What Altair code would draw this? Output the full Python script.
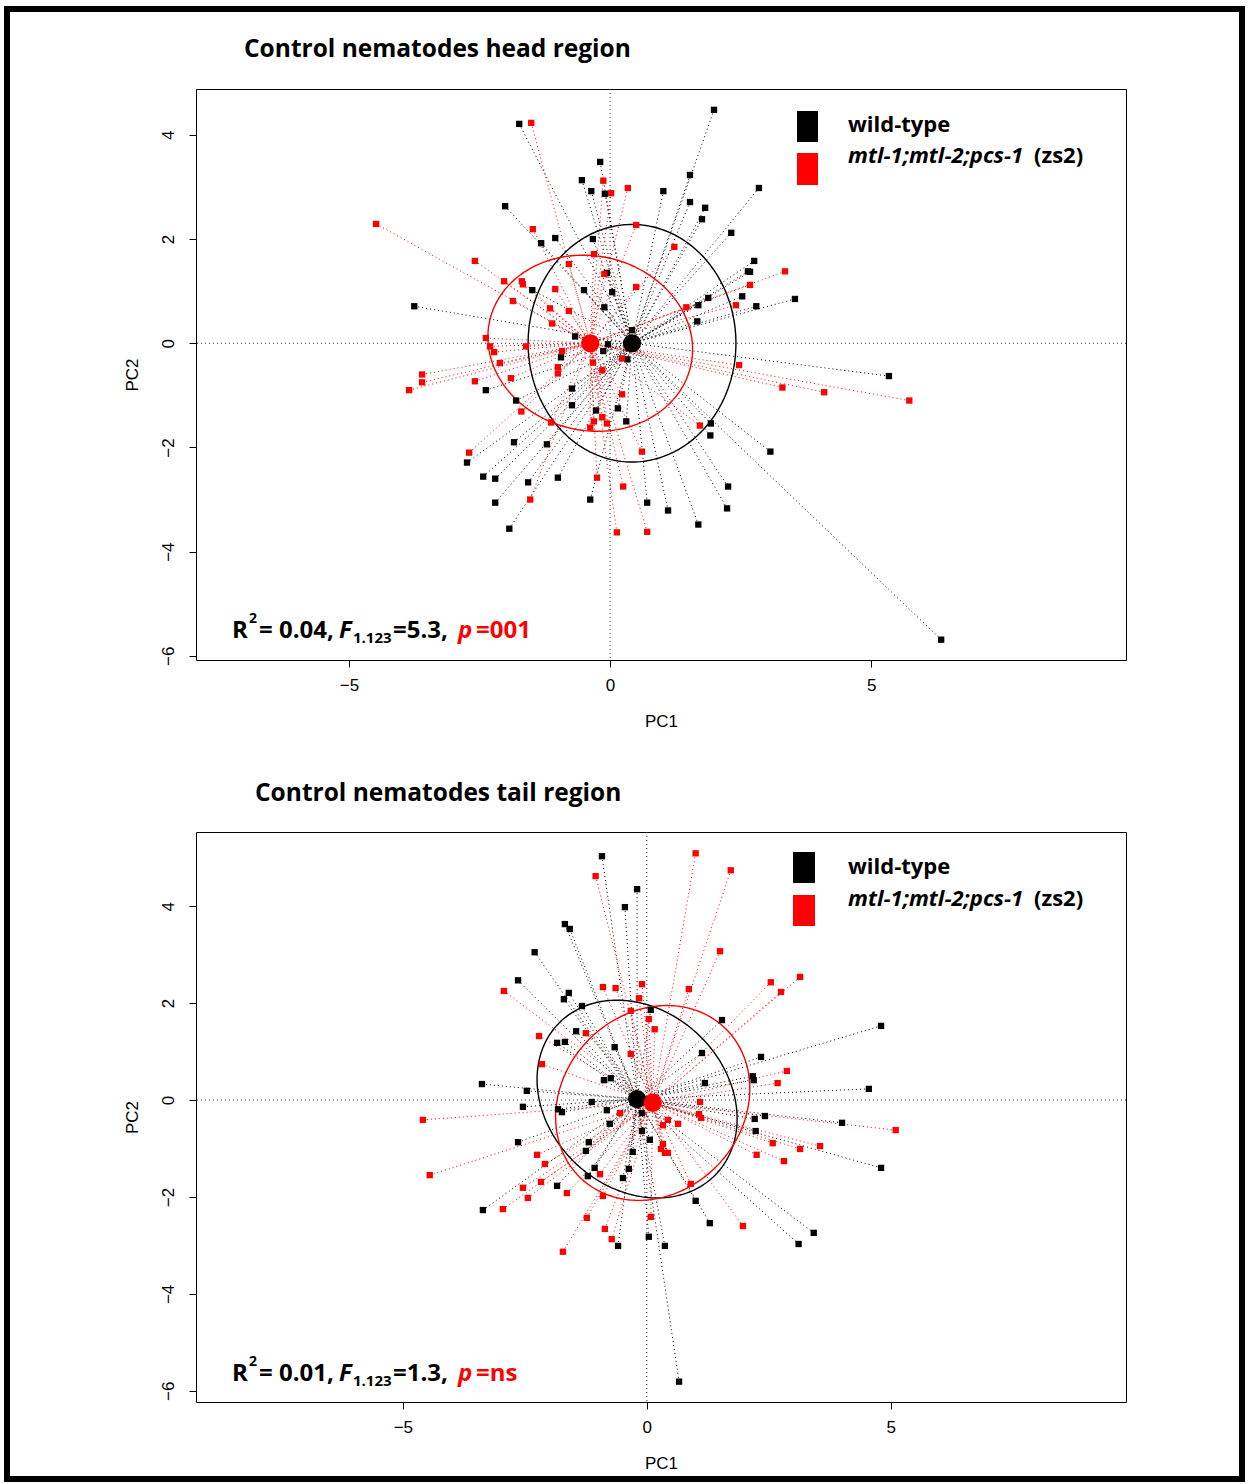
import altair as alt
import numpy as np
import pandas as pd

FONT = "Open Sans"
AXFONT = "Liberation Sans"
RED = "#FF0000"

# ---------------- head region ----------------
head_wt_pc1 = [1.99, -1.74, -0.19, -0.54, -0.36, -0.10, 1.53, 1.02, 1.53, 1.82, 1.76, 2.85, 2.32, -2.01,
               -1.05, -1.32, -0.33, 2.76, 2.64, 2.68, 2.53, 2.80, 3.54, 1.88, 1.69, 1.67, -1.49, -0.50,
               0.04, -0.11, -0.06, -3.75, -0.67, -0.04, 0.42, -0.13, -0.94, 0.33, -2.38, -1.80, -0.73,
               -0.73, -0.27, 0.15, 0.31, -1.84, -1.21, -2.74, -2.43, -2.20, -1.57, -1.00, -2.20, -0.38,
               -1.93, 0.71, 1.93, 1.92, 3.07, 5.34, 2.26, 2.24, 1.11, 1.69, 6.34]
head_wt_pc2 = [4.48, 4.21, 3.48, 3.13, 2.92, 2.87, 3.23, 2.92, 2.71, 2.60, 2.38, 2.98, 2.12, 2.63, 2.02,
               1.92, 2.00, 1.58, 1.38, 1.37, 0.90, 0.71, 0.85, 0.87, 0.73, 0.42, 1.02, 1.02, 0.98, 0.69,
               1.35, 0.71, 0.13, -0.02, 0.25, -0.15, -0.27, -0.31, -0.90, -1.10, -0.87, -1.19, -1.29,
               -1.25, -1.50, -1.90, -1.94, -2.29, -2.56, -2.60, -2.67, -2.58, -3.06, -3.00, -3.56, -3.06,
               -1.54, -1.77, -2.08, -0.63, -2.75, -3.17, -3.21, -3.48, -5.69]
head_mut_pc1 = [-1.51, -0.13, 0.02, 0.34, 0.50, -1.48, -4.48, -2.59, -0.31, -0.79, -0.11, -2.03, -1.69,
                -1.67, -1.05, 0.50, -1.86, -1.15, -0.79, -1.11, -2.38, 1.23, 1.46, 2.68, 3.35, 2.41,
                -2.30, -2.22, -1.61, -2.11, -3.60, -3.60, -3.85, -2.59, -1.90, -1.00, -1.00, -0.92,
                -0.33, -0.15, 0.23, 0.23, -1.70, -1.13, -0.31, -0.15, -0.06, -0.38, 0.61, -2.70, -0.25,
                0.25, -1.53, 0.13, 0.71, 1.72, 2.47, 3.30, 4.10, 5.73]
head_mut_pc2 = [4.23, 3.12, 2.88, 2.98, 2.27, 2.19, 2.29, 1.58, 1.71, 1.52, 1.33, 1.19, 1.19, 1.13, 1.04,
                1.08, 0.81, 0.67, 0.62, 0.38, 0.10, 1.85, 0.69, 1.12, 1.38, 0.73, -0.06, -0.17, -0.06,
                -0.38, -0.60, -0.75, -0.90, -0.73, -0.67, -0.46, -0.58, -0.15, -0.37, -0.52, -0.29,
                -0.98, -1.31, -1.52, -1.50, -1.42, -1.54, -1.62, -2.08, -2.10, -2.58, -2.75, -3.00,
                -3.63, -3.62, -1.58, -0.42, -0.85, -0.94, -1.10]
head_centroids = {"wt": (0.42, 0.0), "mut": (-0.38, 0.0)}
# ellipse: centre x, centre y, sd x, sd y, correlation
head_ellipses = {"wt": (0.42, 0.0, 1.99, 2.28, 0.0), "mut": (-0.38, 0.0, 1.96, 1.69, -0.07)}

# ---------------- tail region ----------------
tail_wt_pc1 = [-0.92, -0.20, -0.45, -1.68, -1.58, -2.30, -2.64, -1.60, -1.70, -1.33, 0.08, -1.45, -1.84,
               -1.68, -0.66, -0.88, -0.74, -3.38, -2.46, -1.13, -2.54, 1.54, 1.13, 2.34, 4.80, 2.17, 2.19,
               1.19, 4.55, -0.82, -1.74, -1.82, -0.10, -0.76, -0.10, 0.06, -2.64, -1.19, -1.25, -0.29,
               -1.07, -1.21, -0.37, -0.49, -1.84, -3.36, -0.59, 0.04, 2.21, 2.42, 2.23, 4.00, 4.80, 1.00,
               1.29, 3.42, 3.11, 0.37, 0.66]
tail_wt_pc2 = [5.03, 4.35, 3.98, 3.63, 3.53, 3.05, 2.47, 2.21, 2.08, 1.94, 1.86, 1.42, 1.18, 1.20, 1.09,
               0.41, 0.45, 0.33, 0.19, -0.04, -0.14, 1.65, 0.97, 0.89, 1.53, 0.49, 0.41, 0.35, 0.23,
               -0.21, -0.25, -0.19, -0.27, -0.49, -0.64, -0.82, -0.87, -0.87, -1.05, -1.07, -1.40, -1.57,
               -1.42, -1.61, -1.77, -2.27, -3.01, -2.82, -0.39, -0.33, -0.64, -0.47, -1.40, -2.08, -2.54,
               -2.74, -2.97, -3.01, -5.81]
tail_mut_pc1 = [-1.05, -2.93, -0.90, -0.64, -0.10, -0.16, -0.33, 0.04, 0.16, -1.25, -2.21, -0.33, -2.15,
                1.00, 1.72, 1.50, 0.86, 2.54, 3.14, 2.75, 2.87, 2.68, 1.09, -4.59, -0.55, -4.45, -2.25,
                -2.09, -2.17, -2.54, -2.44, -1.64, -0.96, -0.90, -2.95, -1.23, -0.86, -0.72, -1.72, 0.08,
                0.29, 1.07, 1.11, 0.43, 0.33, 0.64, 0.33, 0.37, 0.43, 0.90, 1.97, 2.25, 2.58, 2.81, 3.14,
                3.55, 5.10]
tail_mut_pc2 = [4.62, 2.25, 2.33, 2.31, 2.39, 2.10, 1.84, 1.67, 1.46, 1.38, 1.32, 0.95, 0.74, 5.09, 4.74,
                3.07, 2.29, 2.43, 2.54, 2.23, 0.60, 0.35, -0.04, -0.41, -0.27, -1.55, -1.13, -1.32, -1.69,
                -1.81, -2.02, -1.92, -1.53, -1.98, -2.25, -2.43, -2.66, -2.87, -3.13, -2.41, -1.01, -0.29,
                -0.37, -0.41, -0.52, -0.49, -0.91, -1.09, -1.09, -1.73, -2.60, -1.13, -0.89, -1.26, -1.01,
                -0.95, -0.62]
tail_centroids = {"wt": (-0.20, 0.02), "mut": (0.12, -0.06)}
tail_ellipses = {"wt": (-0.20, 0.02, 2.05, 2.04, -0.20), "mut": (0.12, -0.06, 1.99, 2.01, 0.145)}

x_ticks = [-5, 0, 5]
y_ticks = [-6, -4, -2, 0, 2, 4]
legend_labels = ["wild-type", "mtl-1;mtl-2;pcs-1", "(zs2)"]

one = pd.DataFrame({"a": [0]})
COLOR = alt.Color("group:N", scale=alt.Scale(domain=["wt", "mut"], range=["black", RED]), legend=None)


def ellipse_df(params):
    frames = []
    t = np.linspace(0, 2 * np.pi, 241)
    for g, (cx, cy, sx, sy, r) in params.items():
        xs = cx + sx * np.cos(t)
        ys = cy + sy * (r * np.cos(t) + np.sqrt(1 - r * r) * np.sin(t))
        frames.append(pd.DataFrame({"pc1": xs, "pc2": ys, "idx": np.arange(len(t)), "group": g}))
    return pd.concat(frames, ignore_index=True)


def text(s, x, y, size, weight="bold", style="normal", color="black", font=FONT, align="left"):
    return alt.Chart(one).mark_text(
        text=s, align=align, baseline="alphabetic", fontSize=size, fontWeight=weight,
        fontStyle=style, color=color, font=font
    ).encode(x=alt.value(x), y=alt.value(y))


def rect(x1, x2, y1, y2, color):
    return alt.Chart(one).mark_rect(color=color).encode(
        x=alt.value(x1), x2=alt.value(x2), y=alt.value(y1), y2=alt.value(y2))


def panel(wx, wy, mx, my, cents, ells, xdom, ydom, W, H, title, tx, ty, lg, ann, frame=False):
    pts = pd.DataFrame({"pc1": wx + mx, "pc2": wy + my,
                        "group": ["wt"] * len(wx) + ["mut"] * len(mx)})
    pts["cx"] = pts["group"].map(lambda g: cents[g][0])
    pts["cy"] = pts["group"].map(lambda g: cents[g][1])
    cdf = pd.DataFrame({"pc1": [cents[g][0] for g in cents], "pc2": [cents[g][1] for g in cents],
                        "group": list(cents)})

    xaxis = alt.Axis(values=x_ticks, title="PC1", tickSize=7, tickColor="black", domain=False, grid=False,
                     labelFont=AXFONT, labelFontSize=17, labelColor="black", labelPadding=10,
                     labelFlush=False, labelOverlap=False,
                     titleFont=AXFONT, titleFontSize=17, titleFontWeight="normal", titleColor="black",
                     titlePadding=20)
    yaxis = alt.Axis(values=y_ticks, title="PC2", tickSize=7, tickColor="black", domain=False, grid=False,
                     labelFont=AXFONT, labelFontSize=17, labelColor="black", labelAngle=-90,
                     labelAlign="center", labelBaseline="bottom", labelPadding=12,
                     labelFlush=False, labelOverlap=False,
                     titleFont=AXFONT, titleFontSize=17, titleFontWeight="normal", titleColor="black",
                     titlePadding=18)
    xs = alt.Scale(domain=xdom, nice=False, zero=False)
    ys = alt.Scale(domain=ydom, nice=False, zero=False)

    def X(f):
        return alt.X(f, type="quantitative", scale=xs, axis=xaxis)

    def Y(f):
        return alt.Y(f, type="quantitative", scale=ys, axis=yaxis)

    zero_v = alt.Chart(pd.DataFrame({"pc1": [0.0]})).mark_rule(
        color="#333333", strokeDash=[1, 3], strokeWidth=1).encode(x=X("pc1"))
    zero_h = alt.Chart(pd.DataFrame({"pc2": [0.0]})).mark_rule(
        color="#333333", strokeDash=[1, 3], strokeWidth=1).encode(y=Y("pc2"))
    segs = alt.Chart(pts).mark_rule(strokeDash=[1, 3], strokeWidth=1).encode(
        x=X("pc1"), y=Y("pc2"), x2="cx:Q", y2="cy:Q", color=COLOR)
    ell = alt.Chart(ellipse_df(ells)).mark_line(strokeWidth=1.4).encode(
        x=X("pc1"), y=Y("pc2"), order="idx:Q", detail="group:N", color=COLOR)
    sq = alt.Chart(pts).mark_square(size=40, opacity=1).encode(x=X("pc1"), y=Y("pc2"), color=COLOR)
    cen = alt.Chart(cdf).mark_circle(size=330, opacity=1).encode(x=X("pc1"), y=Y("pc2"), color=COLOR)

    layers = [zero_v, zero_h, segs, ell, sq, cen]
    # title
    layers.append(text(title, tx, ty, 24.5))
    # legend
    lx1, lx2, ly = lg
    layers += [rect(lx1, lx2, ly[0], ly[1], "black"), rect(lx1, lx2, ly[2], ly[3], RED)]
    layers.append(text(legend_labels[0], 652, ly[4], 22))
    layers.append(text(legend_labels[1], 652, ly[5], 22, style="italic"))
    layers.append(text(legend_labels[2], 838, ly[5], 22))
    # annotation
    r2, fval, pval = ann
    b = 549
    layers += [
        text("R", 36, b, 24),
        text("2", 53, b - 15, 14),
        text("= " + r2 + ",", 63, b, 24),
        text("F", 143, b, 24, style="italic"),
        text("1.123", 157, b + 5, 15),
        text("=" + fval + ",", 197, b, 24),
        text("p", 262, b, 24, style="italic", color=RED),
        text("=" + pval, 280, b, 24, color=RED),
    ]
    if frame:
        layers.append(alt.Chart(one).mark_rect(fillOpacity=0, stroke="black", strokeWidth=6).encode(
            x=alt.value(-189), x2=alt.value(1046), y=alt.value(-80), y2=alt.value(1390)))
    return alt.layer(*layers).properties(width=W, height=H)


p1 = panel(head_wt_pc1, head_wt_pc2, head_mut_pc1, head_mut_pc2, head_centroids, head_ellipses,
           [-7.93, 9.88], [-6.08, 4.88], 930, 571, "Control nematodes head region", 48, -32,
           (601, 622, [22, 53, 64, 96, 43, 74]), ("0.04", "5.3", "001"), frame=True)
p2 = panel(tail_wt_pc1, tail_wt_pc2, tail_mut_pc1, tail_mut_pc2, tail_centroids, tail_ellipses,
           [-9.24, 9.82], [-6.23, 5.53], 930, 570, "Control nematodes tail region", 59, -31,
           (597, 619, [20, 51, 63, 94, 42, 74]), ("0.01", "1.3", "ns"))

chart = alt.vconcat(p1, p2, spacing=172, bounds="flush").properties(
    padding={"left": 3, "top": 5, "right": 3, "bottom": 3}
).configure_view(stroke="black", strokeWidth=1)

chart.save("out.html", embed_options={"renderer": "svg", "actions": False})
